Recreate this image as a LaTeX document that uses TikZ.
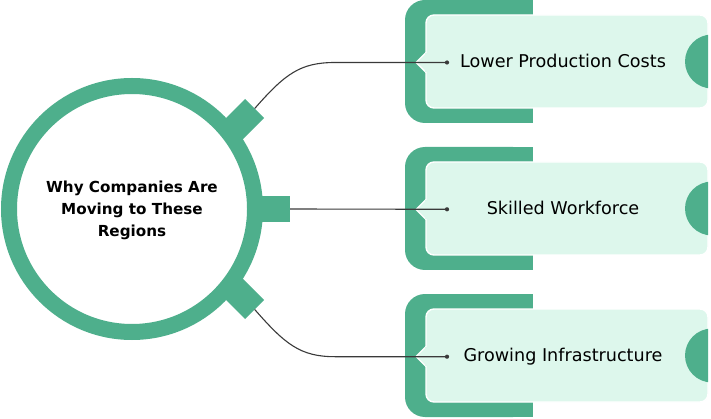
\documentclass[tikz,border=0pt]{standalone}
\usepackage{fontspec}
\setmainfont{DejaVu Sans}
\definecolor{dkgreen}{HTML}{4EAF8C}
\definecolor{mint}{HTML}{DDF7EC}
\definecolor{wire}{HTML}{3A3A3A}
\tikzset{
  wirestyle/.style={draw=wire, line width=1.1pt},
  dotstyle/.style={circle, fill=wire, inner sep=0pt, minimum size=4.2pt},
  itemtext/.style={font=\fontsize{17.6}{20}\selectfont, text=black, anchor=base, inner sep=0pt},
}
\newcommand{\itembox}[3]{% #1 = y centre, #2 = name, #3 = text
  \fill[dkgreen, rounded corners=20pt] (405,#1-61.5) rectangle (533,#1+61.5);
  \fill[dkgreen] (480,#1-61.5) rectangle (533,#1+61.5);
  \filldraw[fill=mint, draw=white, line width=1.4pt, rounded corners=8pt] (426,#1-46.5) rectangle (708,#1+46.5);
  \filldraw[fill=mint, draw=white, line width=1.4pt, line join=round] (426,#1-9) -- (416,#1+1) -- (426,#1+11);
  \fill[mint] (425.2,#1-8.5) rectangle (427.5,#1+10.5);
  \begin{scope}
    \clip[rounded corners=8pt] (426,#1-46.5) rectangle (708,#1+46.5);
    \fill[dkgreen] (712,#1) circle (27);
  \end{scope}
  \node[itemtext] (#2) at (563,#1+5.8) {#3};
}
\begin{document}
\begin{tikzpicture}[x=1pt, y=-1pt]
\useasboundingbox (0,0) rectangle (711,419);

% right-hand boxes
\itembox{61.5}{t1}{Lower Production Costs}
\itembox{208.5}{t2}{Skilled Workforce}
\itembox{355.5}{t3}{Growing Infrastructure}

% tabs on the ring
\fill[dkgreen] (245.2,99) -- (264.2,118) -- (228.8,153.4) -- (209.8,134.4) -- cycle;
\fill[dkgreen] (240,196) rectangle (290,222);
\fill[dkgreen] (245.2,319) -- (264.2,300) -- (228.8,264.6) -- (209.8,283.6) -- cycle;

% central ring
\node[circle, draw=dkgreen, line width=16pt, fill=white, minimum size=246pt, inner sep=0pt] (hub) at (132,209) {};
\node[align=center, font=\bfseries\fontsize{15.2}{22}\selectfont, inner sep=0pt] (title) at (132,210)
  {Why Companies Are\\Moving to These\\Regions};

% connector ends
\coordinate (ta) at (254.7,108.5);
\coordinate (tb) at (290,209);
\coordinate (tc) at (254.7,309.5);
\node[dotstyle] (d1) at (447,62.5) {};
\node[dotstyle] (d2) at (447,209.3) {};
\node[dotstyle] (d3) at (447,356.7) {};

\draw[wirestyle] (ta) .. controls (285,74) and (300,62.5) .. (335,62.5) -- (d1.center);
\draw[wirestyle] (tb) -- (d2.center);
\draw[wirestyle] (tc) .. controls (285,344) and (300,356.7) .. (335,356.7) -- (d3.center);
\end{tikzpicture}
\end{document}
